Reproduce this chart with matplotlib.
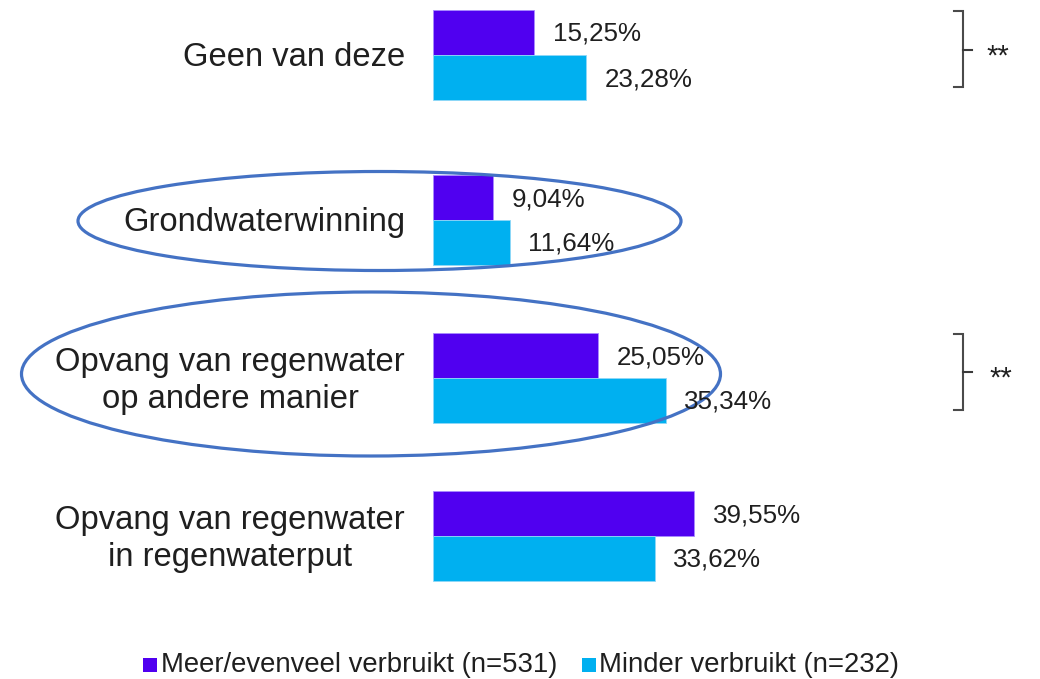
import matplotlib
matplotlib.use("Agg")
import matplotlib.pyplot as plt
from matplotlib.patches import Ellipse, Rectangle

plt.rcParams['font.family'] = ['Liberation Sans', 'DejaVu Sans']

categories = ["Geen van deze", "Grondwaterwinning",
              "Opvang van regenwater\nop andere manier",
              "Opvang van regenwater\nin regenwaterput"]
meer = [15.25, 9.04, 25.05, 39.55]
minder = [23.28, 11.64, 35.34, 33.62]
series_names = ["Meer/evenveel verbruikt (n=531)", "Minder verbruikt (n=232)"]
significance = ["**", None, "**", None]

# layout (pixel units, y measured from top)
W, H = 1040, 679
x0_px = 433.3
scale = 6.58
group_y = [55, 220, 378, 536]
bar_h = 45
c_meer = '#5000F0'
c_minder = '#00B0F0'
txt = '#1f1f1f'

fig = plt.figure(figsize=(W / 100, H / 100), dpi=100)
ax = fig.add_axes([0, 0, 1, 1])
ax.set_xlim(-x0_px / scale, (W - x0_px) / scale)
ax.set_ylim(H, 0)
ax.axis('off')

def px2x(px):
    return (px - x0_px) / scale

ax.barh([g - bar_h / 2 for g in group_y], meer, height=bar_h, color=c_meer,
        edgecolor='#A98CFF', linewidth=0.6)
ax.barh([g + bar_h / 2 for g in group_y], minder, height=bar_h, color=c_minder,
        edgecolor='#8FD8F8', linewidth=0.6)

fmt = lambda v: f"{v:.2f}".replace('.', ',') + '%'
for g, a, b in zip(group_y, meer, minder):
    ax.text(a + 19 / scale, g - bar_h / 2 + 1.5, fmt(a), va='center', ha='left',
            fontsize=18.7, color=txt)
    ax.text(b + 18 / scale, g + bar_h / 2 + 1.5, fmt(b), va='center', ha='left',
            fontsize=18.7, color=txt)

for g, lab in zip(group_y, categories):
    ax.text(px2x(405), g + 2 + (1 if '\n' in lab else 0), lab, ha='right',
            va='center', multialignment='center',
            fontsize=23.6, color=txt, linespacing=1.27)

# highlight ellipses
ell_color = '#4472C4'
ax.add_patch(Ellipse((px2x(379.5), 221), 603 / scale, 99, fill=False,
                     edgecolor=ell_color, linewidth=2.3))
ax.add_patch(Ellipse((px2x(371), 374), 699 / scale, 164, fill=False,
                     edgecolor=ell_color, linewidth=2.3))

# significance brackets
for g, sig in zip(group_y, significance):
    if sig is None:
        continue
    top, bot = g - 44, g + 32
    mid = g - 5 if g < 100 else g - 6
    xv = px2x(963)
    ax.plot([px2x(954), xv, xv, px2x(954)], [top, top, bot, bot],
            color='#4a4a4a', linewidth=1.5, solid_joinstyle='miter')
    ax.plot([xv, px2x(972)], [mid, mid], color='#3a3a3a', linewidth=1.5)
    ax.text(px2x(986 if g < 100 else 989), mid + 7, sig, ha='left', va='center',
            fontsize=21, color=txt)

# legend
leg_y = 665
for sx, tx, c, name in [(143, 161, c_meer, series_names[0]),
                        (582, 599, c_minder, series_names[1])]:
    ax.add_patch(Rectangle((px2x(sx), leg_y - 7), 14 / scale, 14,
                           facecolor=c, edgecolor='none'))
    ax.text(px2x(tx), leg_y, name, ha='left', va='center', fontsize=19.8,
            color=txt)

fig.savefig('out.png', dpi=100)
